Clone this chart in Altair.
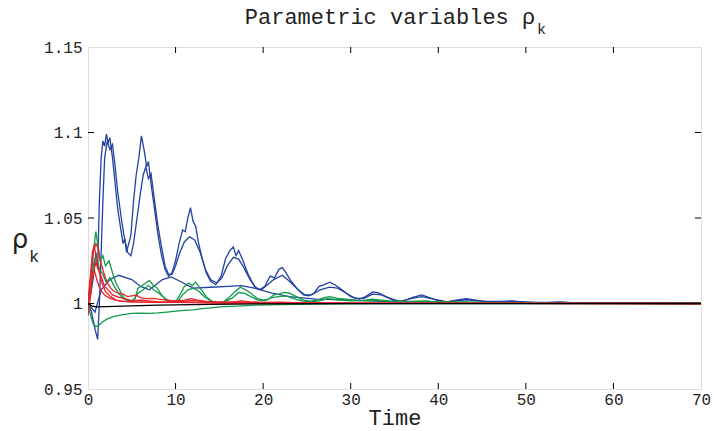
import altair as alt
import pandas as pd

# ---------------- data ----------------
t_blue1 = [0, 0.3, 0.6, 0.9, 1.1, 1.3, 1.5, 1.7, 1.9, 2.1, 2.3, 2.5, 2.8, 3.1, 3.4, 3.7, 4.0, 4.2, 4.4, 4.6,
           4.9, 5.2, 5.5, 5.8, 6.1, 6.4, 6.7, 6.9, 7.2, 7.6, 8.0, 8.4, 8.8, 9.2, 9.6, 10.0, 10.4, 10.8, 11.1,
           11.4, 11.7, 12.0, 12.3, 12.6, 13.0, 13.5, 14.0, 14.6, 15.2, 15.7, 16.2, 16.6, 16.9, 17.2, 17.7,
           18.3, 19.0, 19.6, 20.2, 20.8, 21.3, 21.8, 22.2, 22.6, 23.2, 24.0, 24.6, 25.2, 25.8, 26.4, 27.0,
           27.6, 28.2, 29.0, 30.0, 31.0, 31.7, 32.5, 33.2, 34.0, 35.0, 36.0, 37.0, 38.1, 39.0, 40.0, 41.0,
           42.0, 43.2, 44.5, 46.0, 48.4, 50.0, 52.0, 53.8, 55.5, 58, 60.5, 63, 65, 70]
y_blue1 = [1.0, 1.005, 1.015, 1.03, 1.02, 1.06, 1.085, 1.095, 1.092, 1.099, 1.094, 1.097, 1.085, 1.07, 1.055,
           1.045, 1.035, 1.038, 1.030, 1.034, 1.04, 1.06, 1.075, 1.085, 1.098, 1.09, 1.08, 1.083, 1.07, 1.055,
           1.04, 1.028, 1.02, 1.016, 1.018, 1.025, 1.035, 1.043, 1.042, 1.05, 1.056, 1.048, 1.045, 1.036,
           1.027, 1.018, 1.013, 1.011, 1.016, 1.026, 1.031, 1.033, 1.028, 1.031, 1.025, 1.017, 1.010, 1.008,
           1.010, 1.016, 1.015, 1.020, 1.021, 1.018, 1.013, 1.008, 1.005, 1.0045, 1.006, 1.010, 1.011,
           1.0125, 1.011, 1.008, 1.004, 1.0026, 1.004, 1.0068, 1.0062, 1.004, 1.0015, 1.0012, 1.0035, 1.005,
           1.0035, 1.0015, 1.001, 1.002, 1.0028, 1.0018, 1.0008, 1.0015, 1.0008, 1.0004, 1.0009, 1.0004,
           1.0003, 1.0005, 1.0002, 1.0003, 1.0001]

t_blue2 = [0, 0.4, 0.8, 1.1, 1.3, 1.5, 1.7, 1.9, 2.2, 2.5, 2.8, 3.1, 3.4, 3.8, 4.1, 4.5, 4.9, 5.2, 5.6, 6.0,
           6.3, 6.6, 6.9, 7.2, 7.6, 8.0, 8.4, 8.8, 9.2, 9.6, 10.0, 10.5, 11.0, 11.6, 12.2, 12.8, 13.4, 14.0,
           14.7, 15.3, 15.9, 16.6, 17.2, 17.8, 18.5, 19.2, 19.8, 20.5, 21.2, 22.2, 23.0, 24.0, 24.8, 25.5,
           26.5, 27.6, 28.5, 29.5, 30.5, 31.5, 32.5, 33.5, 34.5, 35.6, 37.0, 38.1, 39.5, 41, 43.2, 45, 48.4,
           51, 53.8, 57, 61, 65, 70]
y_blue2 = [1.0, 0.995, 0.985, 0.979, 1.0, 1.03, 1.06, 1.085, 1.095, 1.09, 1.093, 1.08, 1.065, 1.05, 1.04,
           1.03, 1.028, 1.035, 1.05, 1.065, 1.075, 1.08, 1.073, 1.076, 1.06, 1.045, 1.033, 1.022, 1.017,
           1.017, 1.022, 1.03, 1.036, 1.039, 1.037, 1.030, 1.02, 1.014, 1.012, 1.015, 1.022, 1.027, 1.026,
           1.021, 1.014, 1.009, 1.008, 1.011, 1.014, 1.0165, 1.013, 1.008, 1.005, 1.005, 1.008, 1.0096,
           1.009, 1.006, 1.003, 1.003, 1.0055, 1.005, 1.003, 1.0012, 1.003, 1.004, 1.0025, 1.001, 1.0022,
           1.0012, 1.0012, 1.0006, 1.0007, 1.0003, 1.0004, 1.0002, 1.0001]

t_blue3 = [0, 0.8, 1.5, 2.5, 3.5, 5, 6, 7, 8.5, 9.5, 10.5, 12, 14, 16, 17.5, 19, 21, 23, 26, 30, 35, 40, 50, 70]
y_blue3 = [1.0, 0.995, 1.008, 1.014, 1.0165, 1.014, 1.010, 1.008, 1.014, 1.0155, 1.013, 1.009, 1.0095,
           1.010, 1.0105, 1.009, 1.006, 1.004, 1.0025, 1.002, 1.001, 1.0007, 1.0003, 1.0]

t_green1 = [0, 0.3, 0.6, 0.9, 1.1, 1.4, 1.7, 2.0, 2.4, 2.8, 3.2, 3.6, 4.0, 4.5, 5.0, 5.4, 5.7, 6.2, 6.6, 7.0,
            7.4, 7.9, 8.4, 8.9, 9.5, 10.0, 10.5, 11.0, 11.5, 11.9, 12.3, 12.8, 13.5, 14.2, 14.8, 15.5, 16.2,
            16.8, 17.4, 18.0, 18.6, 19.3, 20.0, 20.6, 21.2, 21.8, 22.4, 23.0, 23.8, 24.6, 25.4, 26.2, 27.0,
            27.6, 28.5, 29.5, 30.5, 31.5, 32.5, 33.5, 35, 37, 38.5, 40, 43, 46, 50, 55, 70]
y_green1 = [1.0, 1.01, 1.03, 1.042, 1.035, 1.025, 1.028, 1.022, 1.025, 1.018, 1.012, 1.008, 1.004, 1.002,
            1.0015, 1.003, 1.009, 1.0105, 1.012, 1.0135, 1.011, 1.009, 1.005, 1.002, 1.0005, 1.001, 1.005,
            1.010, 1.012, 1.0105, 1.0125, 1.009, 1.004, 1.001, 1.0005, 1.001, 1.004, 1.007, 1.0095, 1.008,
            1.006, 1.003, 1.002, 1.0025, 1.005, 1.0055, 1.0065, 1.006, 1.004, 1.002, 1.0014, 1.002, 1.0035,
            1.004, 1.003, 1.0025, 1.002, 1.0018, 1.0025, 1.002, 1.0012, 1.0012, 1.0015, 1.0008, 1.001,
            1.0005, 1.0004, 1.0002, 1.0]

t_green2 = [0, 0.3, 0.7, 1.0, 1.3, 1.7, 2.1, 2.5, 3.0, 3.5, 4.0, 4.6, 5.2, 5.7, 6.3, 6.9, 7.5, 8.1, 8.8, 9.5,
            10.2, 10.8, 11.4, 12.0, 12.6, 13.3, 14.0, 14.8, 15.6, 16.4, 17.2, 17.8, 18.6, 19.4, 20.2, 21.0,
            21.8, 22.6, 23.4, 24.4, 25.4, 26.4, 27.4, 28.5, 30, 32.5, 35, 38.5, 42, 47, 55, 70]
y_green2 = [1.0, 1.012, 1.025, 1.028, 1.02, 1.017, 1.012, 1.015, 1.01, 1.006, 1.003, 1.0015, 1.002, 1.006,
            1.008, 1.0105, 1.008, 1.006, 1.003, 1.001, 1.001, 1.005, 1.008, 1.009, 1.0075, 1.004, 1.0015,
            1.0005, 1.001, 1.003, 1.0065, 1.006, 1.004, 1.002, 1.0015, 1.0035, 1.004, 1.0045, 1.003, 1.0015,
            1.001, 1.0015, 1.0028, 1.0022, 1.0015, 1.0018, 1.001, 1.0012, 1.0007, 1.0004, 1.0002, 1.0]

t_green3 = [0, 0.3, 0.6, 0.9, 1.2, 1.6, 2.2, 3.0, 4.0, 5.0, 6.0, 7.0, 8.0, 9.0, 10.0, 11.0, 12.0, 13.0, 14.0,
            15.0, 17.0, 19.0, 22, 26, 30, 40, 70]
y_green3 = [0.999, 0.993, 0.988, 0.9865, 0.987, 0.989, 0.991, 0.9925, 0.9935, 0.9942, 0.9943, 0.9942,
            0.9945, 0.995, 0.9955, 0.996, 0.9963, 0.997, 0.9975, 0.998, 0.9985, 0.999, 0.9994, 0.9997,
            0.9998, 0.9999, 1.0]

t_red1 = [0, 0.3, 0.6, 0.9, 1.1, 1.4, 1.8, 2.2, 2.6, 3.0, 3.5, 4.0, 4.5, 5.0, 5.5, 6.0, 6.5, 7.0, 7.5, 8.0,
          9, 10, 11, 11.8, 12.5, 13.5, 15, 16.5, 17.5, 18.5, 20, 22, 24, 27, 30, 40, 70]
y_red1 = [1.0, 1.015, 1.03, 1.035, 1.033, 1.025, 1.018, 1.012, 1.009, 1.007, 1.006, 1.0055, 1.004, 1.0045,
          1.0048, 1.0035, 1.003, 1.0028, 1.003, 1.0025, 1.002, 1.0015, 1.002, 1.0028, 1.002, 1.0012, 1.0008,
          1.001, 1.0015, 1.001, 1.0006, 1.0008, 1.0004, 1.0003, 1.0002, 1.0001, 1.0]

t_red2 = [0, 0.2, 0.5, 0.7, 0.9, 1.2, 1.5, 1.9, 2.3, 2.8, 3.3, 4.0, 4.8, 5.5, 6.2, 7, 8, 10, 12, 13, 15,
          17.5, 20, 25, 70]
y_red2 = [1.0, 1.012, 1.03, 1.034, 1.028, 1.02, 1.016, 1.01, 1.008, 1.005, 1.004, 1.003, 1.002, 1.0018,
          1.002, 1.0015, 1.001, 1.0008, 1.0018, 1.0012, 1.0006, 1.001, 1.0004, 1.0002, 1.0]

t_red3 = [0, 0.3, 0.6, 0.9, 1.2, 1.6, 2.0, 2.6, 3.2, 4.0, 5, 6, 8, 11, 14, 20, 70]
y_red3 = [1.0, 1.008, 1.018, 1.024, 1.02, 1.012, 1.007, 1.004, 1.002, 1.0012, 1.001, 1.0008, 1.0006, 1.001,
          1.0005, 1.0002, 1.0]

t_red4 = [0, 0.2, 0.4, 0.7, 1.0, 1.4, 1.9, 2.5, 3.5, 5, 7, 10, 15, 25, 70]
y_red4 = [0.993, 1.0, 1.012, 1.02, 1.014, 1.008, 1.005, 1.003, 1.0015, 1.001, 1.0008, 1.0006, 1.0003,
          1.0001, 1.0]

t_black = [0, 0.5, 1.0, 2, 4, 6, 8, 10, 14, 20, 30, 70]
y_black = [1.0, 0.9985, 0.998, 0.9982, 0.9985, 0.9988, 0.999, 0.9992, 0.9995, 0.9998, 0.9999, 1.0]

x_ticks = [0, 10, 20, 30, 40, 50, 60, 70]
y_ticks = [0.95, 1.0, 1.05, 1.1, 1.15]
inner_x_ticks = [10, 20, 30, 40, 50, 60]
inner_y_ticks = [1.0, 1.05, 1.1]

BLUE = "#2341a0"
GREEN = "#119a48"
RED = "#e8232b"
BLACK = "#000000"

series = [
    ("blue1", BLUE, t_blue1, y_blue1),
    ("blue2", BLUE, t_blue2, y_blue2),
    ("blue3", BLUE, t_blue3, y_blue3),
    ("green1", GREEN, t_green1, y_green1),
    ("green2", GREEN, t_green2, y_green2),
    ("green3", GREEN, t_green3, y_green3),
    ("red1", RED, t_red1, y_red1),
    ("red2", RED, t_red2, y_red2),
    ("red3", RED, t_red3, y_red3),
    ("red4", RED, t_red4, y_red4),
    ("black", BLACK, t_black, y_black),
]

W, H = 613, 342
FONT = "Liberation Mono"

xscale = alt.Scale(domain=[0, 70], nice=False, zero=False)
yscale = alt.Scale(domain=[0.95, 1.15], nice=False, zero=False)

x_axis = alt.Axis(values=x_ticks, title="Time", grid=False, ticks=False, domain=False,
                  labelFont=FONT, labelFontSize=16, labelColor="#222", labelPadding=2,
                  labelFlush=False, titleFont=FONT, titleFontSize=22, titleFontWeight="normal",
                  titleColor="#222", titlePadding=0)
y_axis = alt.Axis(values=y_ticks, title=None, grid=False, ticks=False, domain=False,
                  labelFont=FONT, labelFontSize=16, labelColor="#222", labelPadding=6,
                  labelFlush=False, format="~g")


def X(field="t"):
    return alt.X(f"{field}:Q", scale=xscale, axis=x_axis)


def Y(field="v"):
    return alt.Y(f"{field}:Q", scale=yscale, axis=y_axis)


layers = []
for name, col, ts, ys in series:
    df = pd.DataFrame({"t": ts, "v": ys, "s": name})
    layers.append(alt.Chart(df).mark_line(color=col, strokeWidth=1.3, clip=True).encode(
        x=X(), y=Y(), detail="s:N"))

# inward ticks on all four sides
xt = pd.DataFrame({"t": inner_x_ticks})
yt = pd.DataFrame({"v": inner_y_ticks})
tick_top = alt.Chart(xt).mark_rule(color="black", strokeWidth=1).encode(
    x=X(), y=alt.value(0), y2=alt.value(6))
tick_bot = alt.Chart(xt).mark_rule(color="black", strokeWidth=1).encode(
    x=X(), y=alt.value(H), y2=alt.value(H - 6))
tick_left = alt.Chart(yt).mark_rule(color="black", strokeWidth=1).encode(
    y=Y(), x=alt.value(0), x2=alt.value(6))
tick_right = alt.Chart(yt).mark_rule(color="black", strokeWidth=1).encode(
    y=Y(), x=alt.value(W), x2=alt.value(W - 6))

lab = pd.DataFrame({"a": [0]})
title_main = alt.Chart(lab).mark_text(font=FONT, fontSize=22, color="#222", align="center",
                                      baseline="middle").encode(
    x=alt.value(302), y=alt.value(-30), text=alt.value("Parametric variables ρ"))
title_sub = alt.Chart(lab).mark_text(font=FONT, fontSize=15, color="#222", align="left",
                                     baseline="middle").encode(
    x=alt.value(449), y=alt.value(-18), text=alt.value("k"))
ylab_main = alt.Chart(lab).mark_text(font="DejaVu Sans", fontSize=26, color="#222", align="center",
                                     baseline="middle").encode(
    x=alt.value(-68), y=alt.value(193), text=alt.value("ρ"))
ylab_sub = alt.Chart(lab).mark_text(font=FONT, fontSize=17, color="#222", align="center",
                                    baseline="middle").encode(
    x=alt.value(-54), y=alt.value(210), text=alt.value("k"))

chart = alt.layer(*layers, tick_top, tick_bot, tick_left, tick_right,
                  title_main, title_sub, ylab_main, ylab_sub).properties(
    width=W, height=H,
    autosize=alt.AutoSizeParams(type="none"),
    padding={"left": 88, "top": 47, "right": 13, "bottom": 42},
).configure_view(stroke="black", strokeWidth=1.5).configure(background="white")

chart.save("out.html", embed_options={"renderer": "svg", "actions": False})
